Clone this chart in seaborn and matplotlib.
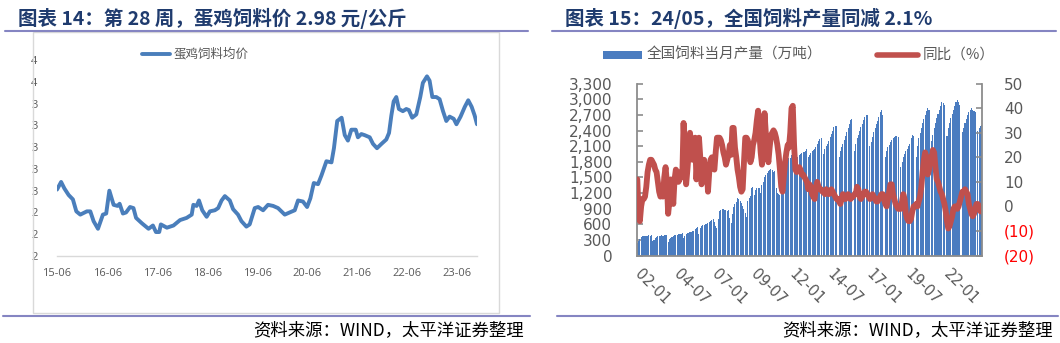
import numpy as np
import pandas as pd
import matplotlib
matplotlib.use("Agg")
import matplotlib.pyplot as plt
import seaborn as sns
from matplotlib.lines import Line2D
from matplotlib.patches import Rectangle
from matplotlib.ticker import FuncFormatter, FixedLocator
import matplotlib.dates as mdates

# ---------------- data: left chart (egg-layer feed price, yuan/kg) ----------------
egg_dates = ["2015-06-01","2015-07-01","2015-07-25","2015-08-25","2015-09-25","2015-10-20","2015-11-18",
             "2016-01-05","2016-01-30","2016-02-23","2016-03-26","2016-05-01","2016-05-25","2016-06-17",
             "2016-07-18","2016-08-16","2016-08-31","2016-09-24","2016-10-17","2016-11-15","2016-12-10",
             "2016-12-29","2017-02-10","2017-03-30","2017-05-01","2017-05-23","2017-06-16","2017-06-28",
             "2017-08-11","2017-09-28","2017-11-15","2018-01-02","2018-02-08","2018-02-20","2018-03-16",
             "2018-04-02","2018-04-26","2018-05-28","2018-06-21","2018-07-27","2018-08-20","2018-09-14",
             "2018-10-08","2018-11-13","2018-12-07","2019-01-12","2019-02-06","2019-03-14","2019-04-07",
             "2019-05-14","2019-06-08","2019-07-14","2019-08-19","2019-09-25","2019-10-31","2019-12-19",
             "2020-01-24","2020-03-01","2020-03-25","2020-04-30","2020-05-30","2020-06-23","2020-07-18",
             "2020-08-18","2020-09-12","2020-10-18","2020-11-24","2020-12-12","2021-01-05","2021-02-06",
             "2021-03-01","2021-03-24","2021-04-18","2021-05-20","2021-06-05","2021-06-30","2021-07-24",
             "2021-08-30","2021-09-23","2021-10-22","2021-11-24","2021-12-29","2022-01-18","2022-02-04",
             "2022-02-21","2022-03-12","2022-03-31","2022-04-29","2022-05-24","2022-06-12","2022-07-06",
             "2022-08-05","2022-09-03","2022-09-22","2022-10-22","2022-11-10","2022-11-30","2022-12-29",
             "2023-01-22","2023-02-16","2023-03-12","2023-04-05","2023-05-05","2023-05-25","2023-06-24",
             "2023-07-25","2023-08-19","2023-09-13","2023-10-05","2023-10-22"]
egg_price = [2.61, 2.68, 2.62, 2.56, 2.52, 2.41, 2.38,
             2.41, 2.41, 2.32, 2.25, 2.38, 2.39, 2.60,
             2.47, 2.46, 2.48, 2.39, 2.40, 2.45, 2.44,
             2.35, 2.30, 2.25, 2.28, 2.22, 2.22, 2.29,
             2.26, 2.28, 2.33, 2.35, 2.38, 2.47, 2.46,
             2.51, 2.42, 2.36, 2.41, 2.42, 2.44, 2.51,
             2.55, 2.51, 2.43, 2.38, 2.32, 2.27, 2.29,
             2.44, 2.45, 2.42, 2.47, 2.46, 2.44, 2.38,
             2.40, 2.42, 2.51, 2.50, 2.45, 2.53, 2.67,
             2.66, 2.74, 2.87, 2.86, 2.99, 3.24, 3.27,
             3.11, 3.06, 3.16, 3.16, 3.09, 3.12, 3.11,
             3.09, 3.03, 2.99, 3.03, 3.07, 3.13, 3.29,
             3.42, 3.46, 3.35, 3.33, 3.35, 3.34, 3.27,
             3.30, 3.46, 3.59, 3.65, 3.61, 3.46, 3.46,
             3.44, 3.33, 3.24, 3.28, 3.26, 3.21, 3.28,
             3.37, 3.43, 3.37, 3.29, 3.21]
egg_ticks = ["2015-06-01", "2016-06-01", "2017-06-01", "2018-06-01", "2019-06-01",
             "2020-06-01", "2021-06-01", "2022-06-01", "2023-06-01"]
egg_yticks = [2.0, 2.2, 2.4, 2.6, 2.8, 3.0, 3.2, 3.4, 3.6, 3.8]

# ---------------- data: right chart (national feed output, 2002-01 .. 2024-05) ----------------
nan = np.nan
feed_output = [
    240, 280, 320, 350, 370, 375, 380, 372, 370, 385, 375, 388,          # 2002
    270, 300, 340, 355, 365, 372, 380, 390, 380, 395, 390, 400,          # 2003
    260, 310, 345, 360, 372, 385, 390, 395, 405, 410, 405, 425,          # 2004
    330, 370, 410, 430, 440, 450, 460, 470, 480, 500, 520, 555,          # 2005
    420, 520, 560, 580, 590, 600, 610, 620, 640, 660, 690, 710,          # 2006
    650, 560, 520, 700, 860, 880, 890, 900, 880, 870, 860, 880,          # 2007
    715, 620, 800, 940, 980, 1020, 1100, 1080, 1040, 1000, 960, 900,     # 2008
    820, 740, 1040, 1100, 1150, 1290, 1325, 1160, 1250, 1290, 1300, 1290,  # 2009
    1200, 1350, 1420, 1500, 1550, 1580, 1620, 1650, 1670, 1640, 1600, 1620,  # 2010
    1300, 1200, 1190, 1160, 1420, 1500, 1600, 1690, 1780, 1870, 1880, 1870,  # 2011
    1930, 1900, 1750, 1690, 1870, 1900, 1930, 1950, 1970, 1980, 1990, 2000,  # 2012
    2050, 1900, 1930, 1960, 2000, 2020, 2050, 2080, 2150, 2200, 2230, 2250,  # 2013
    nan, 1950, 2050, 2100, 2150, 2200, 2280, 2330, 2400, 2460, 2490, 2480,   # 2014
    nan, 1900, 2000, 2080, 2150, 2220, 2300, 2380, 2450, 2530, 2600, 2620,   # 2015
    nan, 2000, 2150, 2250, 2320, 2400, 2460, 2520, 2600, 2660, 2700, 2690,   # 2016
    nan, 2100, 2180, 2280, 2380, 2450, 2520, 2580, 2660, 2750, 2800, 2700,   # 2017
    nan, 1900, 2000, 2080, 2130, 2180, 2220, 2250, 2270, 2300, 2290, 2280,   # 2018
    nan, 1700, 1800, 1900, 1950, 2000, 2050, 2100, 2150, 2250, 2320, 2300,   # 2019
    nan, 1900, 2100, 2250, 2350, 2450, 2550, 2620, 2700, 2780, 2830, 2800,   # 2020
    nan, 2200, 2320, 2450, 2550, 2650, 2720, 2800, 2880, 2950, 2920, 2900,   # 2021
    nan, 2300, 2450, 2550, 2650, 2720, 2800, 2880, 2950, 2990, 2950, 2900,   # 2022
    nan, 2380, 2450, 2550, 2620, 2700, 2750, 2800, 2830, 2800, 2780, 2750,   # 2023
    nan, 2400, 2450, 2480, 2510,                                             # 2024
]
feed_yoy = [
    11, -3, -6, 0, 3, 3, 4, 8, 14, 17, 19, 19,        # 2002
    18, 17, 15, 14, 10, 6, 4, 5, 4, 12, 16, 10,       # 2003
    -3, 2, 11, 8, 1, 11, 15, 14, 10, 11, 14, 12,      # 2004
    34, 20, 9, 15, 22, 30, 25, 19, 22, 28, 11, 20,    # 2005
    28, 20, 9, 12, 19, 14, 16, 6, 14, 19, 20, 16,     # 2006
    15, 22, 28, 28, 28, 27, 25, 22, 20, 17, 19, 21,   # 2007
    25, 21, 32, 32, 24, 20, 15, 12, 8, 6, 7, 18,      # 2008
    28, 28, 27, 22, 18, 20, 25, 27, 30, 35, 39, 30,   # 2009
    22, 17, 25, 38, 30, 22, 18, 24, 29, 30, 31, 30,   # 2010
    28, 25, 21, 15, 8, 6, 12, 18, 22, 25, 24, 30,     # 2011
    40, 41, 25, 15, 14, 15, 16, 15, 13, 13, 12, 11,   # 2012
    10, 7, 9, 8, 5, 4, 3, 8, 10, 8, 7, 7,            # 2013
    6, 6, 5, 7, 6, 5, 6, 7, 6, 5, 4, 3,              # 2014
    3, 2, 1, 3, 5, 4, 3, 4, 5, 4, 3, 4,              # 2015
    4, 5, 5, 8, 7, 4, 3, 4, 5, 6, 6, 5,              # 2016
    4, 3, 4, 5, 4, 3, 2, 2, 3, 4, 5, 5,              # 2017
    3, 1, 0, 3, 6, 9, 9, 5, 3, 1, 0, -1,             # 2018
    -1, -1, 2, 5, 3, -3, -5, -6, -6, -5, -2, 0,      # 2019
    0, 1, 0, 2, 4, 8, 14, 19, 22, 20, 13, 15,        # 2020
    20, 19, 23, 22, 16, 11, 10, 8, 6, 5, 3, 1,       # 2021
    -2, -6, -9, -8, -6, -4, -1, 0, 0, -1, 0, 2,      # 2022
    4, 6, 6, 7, 6, 5, 1, -1, -3, -4, -3, -1,         # 2023
    1, 1, 0, -2, -2.1,                               # 2024
]
start_year, start_month = 2002, 1
feed_tick_labels = ["02-01", "04-07", "07-01", "09-07", "12-01", "14-07", "17-01", "19-07", "22-01"]
left_ticks = list(range(0, 3301, 300))
right_ticks = list(range(-20, 51, 10))

title_left = "图表 14：第 28 周，蛋鸡饲料价 2.98 元/公斤"
title_right = "图表 15：24/05，全国饲料产量同减 2.1%"
source_text = "资料来源：WIND，太平洋证券整理"
legend_left = "蛋鸡饲料均价"
legend_bar = "全国饲料当月产量（万吨）"
legend_line = "同比（%）"

# ---------------- style ----------------
sns.set_theme(style="white")
plt.rcParams['font.family'] = ['Noto Sans CJK SC', 'DejaVu Sans']

NAVY = "#1F3B6E"
RULE = "#8585C2"
GREY_TXT = "#595959"
BLUE_LINE = "#4A7EBB"
BAR = "#4A7CC0"
RED = "#C0504D"
AXIS = "#8C8C8C"

W, H = 1060, 343
fig = plt.figure(figsize=(W / 100, H / 100), dpi=100)
fig.patch.set_facecolor("white")


def fx(x):
    return x / W


def fy(y):
    return 1 - y / H


# titles, rules, footers
fig.text(fx(18), fy(18), title_left, fontsize=14, fontweight="bold", color=NAVY, ha="left", va="center")
fig.text(fx(565), fy(18), title_right, fontsize=14, fontweight="bold", color=NAVY, ha="left", va="center")
for x0, x1 in [(5, 528), (552, 1056)]:
    fig.add_artist(Line2D([fx(x0), fx(x1)], [fy(31), fy(31)], color=RULE, lw=1.5))
for x0, x1 in [(3, 530), (557, 1058)]:
    fig.add_artist(Line2D([fx(x0), fx(x1)], [fy(316), fy(316)], color=RULE, lw=1.5))
fig.text(fx(524), fy(330), source_text, fontsize=12.5, color="black", ha="right", va="center")
fig.text(fx(1053), fy(330), source_text, fontsize=12.5, color="black", ha="right", va="center")

# left chart frame
fig.add_artist(Rectangle((fx(33), fy(313)), (499 - 33) / W, (313 - 32) / H, transform=fig.transFigure,
                         fill=False, edgecolor="#D9D9D9", lw=1))

# ---------------- left chart ----------------
ax1 = fig.add_axes([fx(57), fy(256), (477 - 57) / W, (256 - 60) / H])
df_egg = pd.DataFrame({"date": pd.to_datetime(egg_dates), "price": egg_price})
sns.lineplot(data=df_egg, x="date", y="price", ax=ax1, color=BLUE_LINE, lw=2.8)
ax1.set_xlim(df_egg["date"].iloc[0], df_egg["date"].iloc[-1])
ax1.set_ylim(egg_yticks[0], egg_yticks[-1])
ax1.set_xlabel("")
ax1.set_ylabel("")
ax1.set_facecolor("none")
ax1.xaxis.set_major_locator(FixedLocator(mdates.date2num(pd.to_datetime(egg_ticks))))
ax1.xaxis.set_major_formatter(mdates.DateFormatter("%y-%m"))
ax1.yaxis.set_major_locator(FixedLocator(egg_yticks))
ax1.yaxis.set_major_formatter(FuncFormatter(lambda v, p: f"{v:.0f}"))
for s in ["top", "right", "left"]:
    ax1.spines[s].set_visible(False)
ax1.spines["bottom"].set_color("#D9D9D9")
ax1.spines["bottom"].set_linewidth(1)
ax1.tick_params(axis="both", length=0, colors=GREY_TXT, labelsize=8)
ax1.tick_params(axis="y", pad=14)
ax1.tick_params(axis="x", pad=9)
for lbl in ax1.get_xticklabels() + ax1.get_yticklabels():
    lbl.set_fontfamily(["Open Sans", "DejaVu Sans"])
fig.add_artist(Line2D([fx(142), fx(170)], [fy(54), fy(54)], color=BLUE_LINE, lw=2.8))
fig.text(fx(174), fy(54), legend_left, fontsize=9, color=GREY_TXT, ha="left", va="center")

# ---------------- right chart ----------------
n = len(feed_output)
months = pd.period_range(f"{start_year}-{start_month:02d}", periods=n, freq="M")
month_labels = [p.strftime("%y-%m") for p in months]
df_feed = pd.DataFrame({"month": month_labels, "output": feed_output, "yoy": feed_yoy, "idx": np.arange(n)})

ax2 = fig.add_axes([fx(637.3), fy(255.5), (981.7 - 637.3) / W, (255.5 - 83.7) / H])
sns.barplot(data=df_feed, x="month", y="output", order=month_labels, color=BAR, saturation=1,
            width=0.8, linewidth=0, ax=ax2, errorbar=None)
ax3 = ax2.twinx()
sns.lineplot(data=df_feed, x="idx", y="yoy", ax=ax3, color=RED, lw=4.2)
ax2.set_xlim(0, n - 1)
ax2.set_ylim(left_ticks[0], left_ticks[-1])
ax3.set_ylim(right_ticks[0], right_ticks[-1])
for a in (ax2, ax3):
    a.set_xlabel("")
    a.set_ylabel("")
    a.set_facecolor("none")

tick_pos = [month_labels.index(t) for t in feed_tick_labels]
ax2.xaxis.set_major_locator(FixedLocator(tick_pos))
ax2.set_xticklabels(feed_tick_labels, rotation=-45, ha="left", va="center", rotation_mode="anchor")
ax2.yaxis.set_major_locator(FixedLocator(left_ticks))
ax2.set_yticklabels([f"{v:,}" for v in left_ticks])
ax3.yaxis.set_major_locator(FixedLocator(right_ticks))
ax3.set_yticklabels([f"({abs(v)})" if v < 0 else f"{v}" for v in right_ticks])
for lbl, v in zip(ax3.get_yticklabels(), right_ticks):
    lbl.set_color("#FF0000" if v < 0 else GREY_TXT)

for s in ["top", "right"]:
    ax2.spines[s].set_visible(False)
for s in ["top", "left", "bottom"]:
    ax3.spines[s].set_visible(False)
for sp in (ax2.spines["left"], ax2.spines["bottom"], ax3.spines["right"]):
    sp.set_color(AXIS)
    sp.set_linewidth(1.3)
ax2.tick_params(axis="y", direction="in", length=4, width=1.2, color=AXIS, labelcolor=GREY_TXT,
                labelsize=11, pad=18)
ax2.tick_params(axis="x", direction="out", length=4, width=1.2, color=AXIS, labelcolor=GREY_TXT,
                labelsize=10.5, pad=8)
ax3.tick_params(axis="y", direction="in", length=4, width=1.2, color=AXIS, labelsize=11, pad=16)
for lbl in ax2.get_xticklabels() + ax2.get_yticklabels() + ax3.get_yticklabels():
    lbl.set_fontfamily(["DejaVu Sans"])
ax3.set_zorder(ax2.get_zorder() + 1)

# legend for right chart
fig.add_artist(Rectangle((fx(603), fy(58.5)), (642 - 603) / W, 7 / H, transform=fig.transFigure,
                         facecolor=BAR, edgecolor="none"))
fig.text(fx(647), fy(55), legend_bar, fontsize=10.5, color=GREY_TXT, ha="left", va="center")
fig.add_artist(Line2D([fx(877), fx(918)], [fy(55), fy(55)], color=RED, lw=4))
fig.text(fx(923), fy(55), legend_line, fontsize=10.5, color=GREY_TXT, ha="left", va="center")

fig.savefig("out.png", dpi=100, facecolor="white")
